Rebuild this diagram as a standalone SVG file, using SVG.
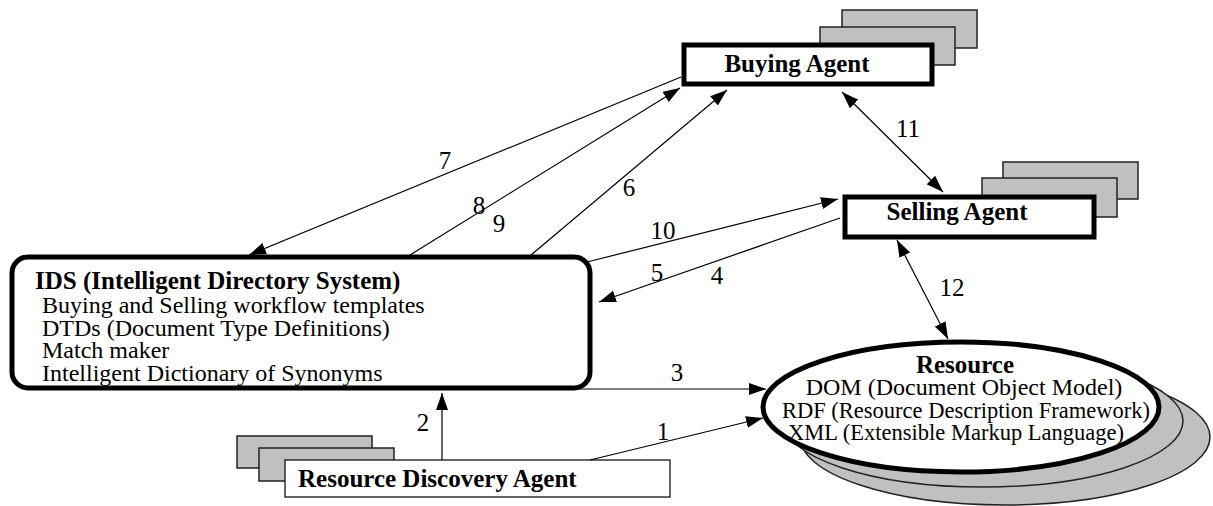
<svg xmlns="http://www.w3.org/2000/svg" width="1213" height="506" viewBox="0 0 1213 506">
<style>
.t{font-family:"Liberation Serif","Times New Roman",serif;font-size:25px;fill:#000}
.s{font-size:24px}
.r{font-size:22.5px}
.b{font-weight:bold}
.shadow{fill:#c0c0c0;stroke:#222;stroke-width:1.5}
.main{fill:#fff;stroke:#000;stroke-width:5}
.conn line{stroke:#000;stroke-width:1.2;fill:none}
</style>
<defs>
<marker id="ah" viewBox="0 0 17 12" refX="17" refY="6" markerWidth="17" markerHeight="12" orient="auto-start-reverse" markerUnits="userSpaceOnUse">
<path d="M0,0 L17,6 L0,12 z" fill="#000"/>
</marker>
</defs>
<rect width="1213" height="506" fill="#fff"/>

<g id="buying-agent">
<rect class="shadow" x="842" y="10" width="135" height="38"/>
<rect class="shadow" x="820" y="27" width="135" height="38"/>
<rect class="main" x="684" y="45" width="248" height="39"/>
<text class="t b" x="797" y="72" text-anchor="middle">Buying Agent</text>
</g>

<g id="selling-agent">
<rect class="shadow" x="1003" y="162" width="135" height="37"/>
<rect class="shadow" x="982" y="178" width="135" height="39"/>
<rect class="main" x="845" y="197" width="249" height="40"/>
<text class="t b" x="957" y="220" text-anchor="middle">Selling Agent</text>
</g>

<g id="ids">
<rect class="main" x="12" y="257" width="578" height="131" rx="16"/>
<text class="t b" x="35" y="289">IDS (Intelligent Directory System)</text>
<text class="t s" x="42" y="313">Buying and Selling workflow templates</text>
<text class="t s" x="42" y="336">DTDs (Document Type Definitions)</text>
<text class="t s" x="42" y="358">Match maker</text>
<text class="t s" x="42" y="381">Intelligent Dictionary of Synonyms</text>
</g>

<g id="resource-discovery-agent">
<rect class="shadow" x="237" y="436" width="135" height="32"/>
<rect class="shadow" x="259" y="448" width="135" height="33"/>
<rect x="285" y="460" width="385" height="37" fill="#fff" stroke="#000" stroke-width="1.2"/>
<text class="t b" x="298" y="487">Resource Discovery Agent</text>
</g>

<g id="resource">
<ellipse class="shadow" cx="1005" cy="437" rx="205" ry="68"/>
<ellipse class="shadow" cx="983" cy="421" rx="200" ry="66"/>
<ellipse class="main" cx="961" cy="407" rx="198" ry="65"/>
<text class="t b" x="965" y="373" text-anchor="middle">Resource</text>
<text class="t s" x="964" y="395" text-anchor="middle">DOM (Document Object Model)</text>
<text class="t r" x="966" y="418" text-anchor="middle">RDF (Resource Description Framework)</text>
<text class="t r" x="956" y="440" text-anchor="middle">XML (Extensible Markup Language)</text>
</g>

<g id="connectors" class="conn">
<line x1="590" y1="460" x2="763" y2="418" marker-end="url(#ah)"/>
<line x1="442" y1="460" x2="442" y2="393" marker-end="url(#ah)"/>
<line x1="578" y1="389" x2="766" y2="389" marker-end="url(#ah)"/>
<line x1="840" y1="218" x2="599" y2="302" marker-end="url(#ah)"/>
<line x1="531" y1="255" x2="727" y2="90" marker-end="url(#ah)"/>
<line x1="681" y1="77" x2="249" y2="255" marker-end="url(#ah)"/>
<line x1="410" y1="255" x2="680" y2="88" marker-end="url(#ah)"/>
<line x1="587" y1="262" x2="838" y2="199" marker-end="url(#ah)"/>
<line x1="842" y1="92" x2="943" y2="192" marker-start="url(#ah)" marker-end="url(#ah)"/>
<line x1="897" y1="240" x2="948" y2="339" marker-start="url(#ah)" marker-end="url(#ah)"/>
</g>

<g id="labels">
<text class="t" x="663" y="440" text-anchor="middle">1</text>
<text class="t" x="423" y="431" text-anchor="middle">2</text>
<text class="t" x="677" y="381" text-anchor="middle">3</text>
<text class="t" x="717" y="284" text-anchor="middle">4</text>
<text class="t" x="657" y="281" text-anchor="middle">5</text>
<text class="t" x="629" y="196" text-anchor="middle">6</text>
<text class="t" x="445" y="169" text-anchor="middle">7</text>
<text class="t" x="479" y="214" text-anchor="middle">8</text>
<text class="t" x="499" y="232" text-anchor="middle">9</text>
<text class="t" x="663" y="239" text-anchor="middle">10</text>
<text class="t" x="908" y="137" text-anchor="middle">11</text>
<text class="t" x="952" y="296" text-anchor="middle">12</text>
</g>
</svg>
